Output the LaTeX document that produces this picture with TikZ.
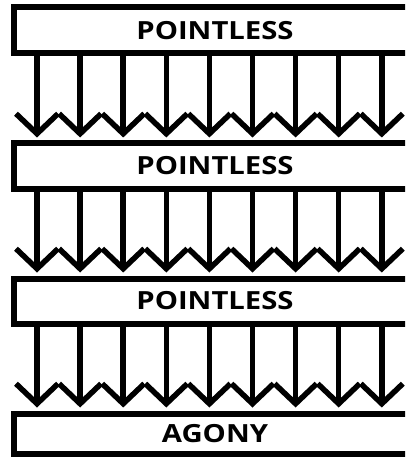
\documentclass[tikz,border=0pt]{standalone}
\usepackage{fontspec}
\setmainfont{Open Sans}
\newfontfamily\layerfont[FakeStretch=1.17]{Open Sans}
\usepackage{tikz}
\usetikzlibrary{arrows.meta,positioning,calc}

\tikzset{
  layer/.style={draw, line width=6pt, minimum width=403pt, inner sep=0pt,
    font=\layerfont\fontsize{25}{25}\selectfont\bfseries},
  push/.style={line width=5.5pt, -{Straight Barb[length=20pt,width=42pt,line width=5.5pt]}, shorten >=3pt}
}

\begin{document}
\begin{tikzpicture}[x=1pt,y=-1pt]
  \useasboundingbox (0,0) rectangle (405,457);
  \clip (0,0) rectangle (405,457);
  \node[layer, minimum height=45.5pt] (p1) at (215,30.25) {POINTLESS};
  \node[layer, minimum height=45pt] (p2) at (215,166) {POINTLESS};
  \node[layer, minimum height=45pt] (p3) at (215,301) {POINTLESS};
  \node[layer, minimum height=40pt] (agony) at (215,433.5) {AGONY};
  \foreach \a/\b in {p1/p2,p2/p3,p3/agony}{
    \foreach \i in {0,...,8}{
      \draw[push] (\a.south -| {37+43.1*\i},0) -- (\b.north -| {37+43.1*\i},0);
    }
  }
\end{tikzpicture}
\end{document}
